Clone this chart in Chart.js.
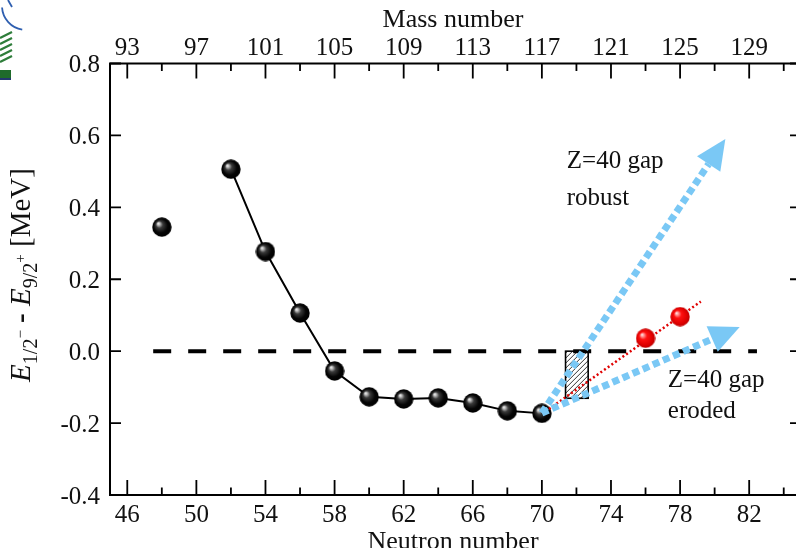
<!DOCTYPE html>
<html><head><meta charset="utf-8">
<script src="https://cdn.jsdelivr.net/npm/chart.js@4/dist/chart.umd.min.js"></script>
<style>
html,body{margin:0;padding:0;background:#fff;overflow:hidden;width:796px;height:548px;}
canvas{display:block;}
</style></head>
<body><canvas id="c" width="796" height="548" style="width:796px;height:548px"></canvas>
<script>
// ---- data ----
const neutronMain = [52, 54, 56, 58, 60, 62, 64, 66, 68, 70];
const energyMain  = [0.506, 0.277, 0.106, -0.055, -0.127, -0.133, -0.130, -0.144, -0.166, -0.173];
const neutronSingle = [48];
const energySingle  = [0.345];
const neutronRed = [76, 78];
const energyRed  = [0.036, 0.096];
const fitN = [70.2, 79.2];
const fitE = [-0.168, 0.138];
const zeroN = [47.5, 82.45];
const zeroE = [0, 0];
const robustN = [70.0, 80.62];
const robustE = [-0.172, 0.590];
const erodedN = [70.0, 81.45];
const erodedE = [-0.172, 0.067];
const boxN = [71.37, 72.68];
const boxE = [-0.131, 0];
const xMajorTicks = [46, 50, 54, 58, 62, 66, 70, 74, 78, 82];
const xMinorTicks = [48, 52, 56, 60, 64, 68, 72, 76, 80, 84];
const massLabels  = ['93', '97', '101', '105', '109', '113', '117', '121', '125', '129'];
const yTicks = [-0.4, -0.2, 0.0, 0.2, 0.4, 0.6, 0.8];
const yTickLabels = ['-0.4', '-0.2', '0.0', '0.2', '0.4', '0.6', '0.8'];
const xRange = [45, 84.71];   // right part of the frame is cropped in the reference
const yRange = [-0.4, 0.8];
const notes = [
  {text: 'Z=40 gap', n: 71.44, e: 0.509},
  {text: 'robust',   n: 71.44, e: 0.406},
  {text: 'Z=40 gap', n: 77.29, e: -0.100},
  {text: 'eroded',   n: 77.29, e: -0.186}
];

const pts = (xs, ys) => xs.map((x, i) => ({x: x, y: ys[i]}));
const SERIF = '"Liberation Serif", "Times New Roman", serif';

function sphere(r, stops) {
  const c = document.createElement('canvas');
  c.width = c.height = 2 * r;
  const g = c.getContext('2d');
  const grad = g.createRadialGradient(r - r * 0.38, r - r * 0.38, 0, r, r, r);
  stops.forEach(s => grad.addColorStop(s[0], s[1]));
  g.fillStyle = grad;
  g.beginPath(); g.arc(r, r, r - 0.3, 0, Math.PI * 2); g.fill();
  return c;
}
const blackBall = sphere(10, [[0, '#f4f4f4'], [0.12, '#c8c8c8'], [0.35, '#3a3a3a'], [0.7, '#050505'], [1, '#000']]);
const redBall = sphere(10, [[0, '#ffffff'], [0.12, '#ffb0b0'], [0.38, '#ff1010'], [0.8, '#dd0000'], [1, '#b80000']]);

const blue = 'rgb(122,200,245)';

function drawArrow(ctx, x0, y0, x1, y1) {
  const ang = Math.atan2(y1 - y0, x1 - x0);
  const headL = 30, headW = 14;
  const bx = x1 - headL * Math.cos(ang), by = y1 - headL * Math.sin(ang);
  ctx.save();
  ctx.strokeStyle = blue; ctx.lineWidth = 7; ctx.setLineDash([7, 4]); ctx.lineCap = 'butt';
  ctx.beginPath(); ctx.moveTo(x0, y0); ctx.lineTo(bx, by); ctx.stroke();
  ctx.setLineDash([]);
  ctx.fillStyle = blue;
  ctx.beginPath();
  ctx.moveTo(x1, y1);
  ctx.lineTo(bx + headW * Math.sin(ang), by - headW * Math.cos(ang));
  ctx.lineTo(bx - headW * Math.sin(ang), by + headW * Math.cos(ang));
  ctx.closePath(); ctx.fill();
  ctx.restore();
}

function drawYLabel(ctx, cx, cy) {
  const main = '29px ' + SERIF, ital = 'italic 29px ' + SERIF, sub = '20px ' + SERIF, sup = '15px ' + SERIF;
  const parts = [
    {t: 'E', f: ital, dy: 0},
    {t: '1/2', f: sub, dy: 7},
    {t: '\u2212', f: sup, dy: -5},
    {t: ' - ', f: 'bold 29px ' + SERIF, dy: 0},
    {t: 'E', f: ital, dy: 0},
    {t: '9/2', f: sub, dy: 7},
    {t: '+', f: sup, dy: -5},
    {t: ' [MeV]', f: main, dy: 0}
  ];
  ctx.save();
  let total = 0;
  parts.forEach(p => { ctx.font = p.f; p.w = ctx.measureText(p.t).width; total += p.w; });
  ctx.translate(cx, cy); ctx.rotate(-Math.PI / 2);
  ctx.fillStyle = '#111'; ctx.textBaseline = 'alphabetic'; ctx.textAlign = 'left';
  let x = -total / 2;
  parts.forEach(p => { ctx.font = p.f; ctx.fillText(p.t, x, p.dy); x += p.w; });
  ctx.restore();
}

const decor = {
  id: 'decor',
  beforeDraw(chart) {
    const ctx = chart.ctx;
    ctx.save();
    ctx.fillStyle = '#fff'; ctx.fillRect(0, 0, chart.width, chart.height);
    // partial logo at top-left corner
    ctx.strokeStyle = '#2f5fb0'; ctx.lineWidth = 1.8;
    ctx.beginPath(); ctx.arc(26, 6, 24, Math.PI * 0.55, Math.PI * 0.98); ctx.stroke();
    ctx.beginPath(); ctx.moveTo(8, 0); ctx.lineTo(12, 7); ctx.stroke();
    ctx.strokeStyle = '#2e7d3a'; ctx.lineWidth = 2.2;
    [[34, 9], [40, 8], [46, 7], [52, 6], [58, 5]].forEach(a => {
      ctx.beginPath(); ctx.moveTo(0, a[0] + 4); ctx.lineTo(12, a[0] - 2); ctx.stroke();
    });
    ctx.fillStyle = '#1f6b2a'; ctx.fillRect(0, 70, 11, 8);
    ctx.fillStyle = '#23386e'; ctx.fillRect(0, 78, 11, 2);
    ctx.restore();
  },
  beforeDatasetsDraw(chart) {
    const ctx = chart.ctx, xs = chart.scales.x, ys = chart.scales.y;
    const x0 = xs.getPixelForValue(boxN[0]), x1 = xs.getPixelForValue(boxN[1]);
    const y0 = ys.getPixelForValue(boxE[1]), y1 = ys.getPixelForValue(boxE[0]);
    ctx.save();
    ctx.fillStyle = '#fff'; ctx.fillRect(x0, y0, x1 - x0, y1 - y0);
    ctx.beginPath(); ctx.rect(x0, y0, x1 - x0, y1 - y0); ctx.clip();
    ctx.strokeStyle = '#333'; ctx.lineWidth = 1;
    for (let k = -60; k < 120; k += 5) {
      ctx.beginPath(); ctx.moveTo(x0 + k, y1); ctx.lineTo(x0 + k + (y1 - y0), y0); ctx.stroke();
    }
    ctx.restore();
    ctx.save();
    ctx.strokeStyle = '#000'; ctx.lineWidth = 1.6;
    ctx.strokeRect(x0, y0, x1 - x0, y1 - y0);
    ctx.restore();
  },
  afterDatasetsDraw(chart) {
    const ctx = chart.ctx, xs = chart.scales.x, ys = chart.scales.y;
    drawArrow(ctx, xs.getPixelForValue(robustN[0]), ys.getPixelForValue(robustE[0]),
                   xs.getPixelForValue(robustN[1]), ys.getPixelForValue(robustE[1]));
    drawArrow(ctx, xs.getPixelForValue(erodedN[0]), ys.getPixelForValue(erodedE[0]),
                   xs.getPixelForValue(erodedN[1]), ys.getPixelForValue(erodedE[1]));
  },
  afterDraw(chart) {
    const ctx = chart.ctx, xs = chart.scales.x, ys = chart.scales.y, a = chart.chartArea;
    const L = a.left, T = a.top, B = a.bottom;
    const R = xs.getPixelForValue(85);   // frame's right side, just outside the crop
    ctx.save();
    ctx.strokeStyle = '#000'; ctx.lineWidth = 2;
    ctx.beginPath();
    ctx.moveTo(R + 2, T); ctx.lineTo(L, T); ctx.lineTo(L, B); ctx.lineTo(R + 2, B);
    ctx.stroke();
    ctx.lineWidth = 1.8;
    xMajorTicks.forEach(v => {
      const p = xs.getPixelForValue(v);
      ctx.beginPath(); ctx.moveTo(p, B); ctx.lineTo(p, B - 15); ctx.moveTo(p, T); ctx.lineTo(p, T + 15); ctx.stroke();
    });
    xMinorTicks.forEach(v => {
      const p = xs.getPixelForValue(v);
      ctx.beginPath(); ctx.moveTo(p, B); ctx.lineTo(p, B - 7.5); ctx.moveTo(p, T); ctx.lineTo(p, T + 7.5); ctx.stroke();
    });
    yTicks.forEach(v => {
      const p = ys.getPixelForValue(v);
      ctx.beginPath(); ctx.moveTo(L, p); ctx.lineTo(L + 11, p); ctx.moveTo(R, p); ctx.lineTo(R - 11, p); ctx.stroke();
    });
    ctx.fillStyle = '#111';
    ctx.font = '25px ' + SERIF; ctx.textBaseline = 'alphabetic';
    ctx.textAlign = 'center';
    xMajorTicks.forEach((v, i) => {
      const p = xs.getPixelForValue(v);
      ctx.fillText(String(v), p, 521.5);
      ctx.fillText(massLabels[i], p, 55);
    });
    ctx.textAlign = 'right';
    yTicks.forEach((v, i) => {
      ctx.fillText(yTickLabels[i], L - 10, ys.getPixelForValue(v) + 8.5);
    });
    ctx.textAlign = 'center';
    ctx.font = '26px ' + SERIF;
    ctx.fillText('Mass number', 453, 27);
    ctx.fillText('Neutron number', 453, 548.5);
    ctx.textAlign = 'left';
    ctx.font = '25px ' + SERIF;
    notes.forEach(nt => ctx.fillText(nt.text, xs.getPixelForValue(nt.n), ys.getPixelForValue(nt.e)));
    drawYLabel(ctx, 30, 275);
    ctx.restore();
  }
};

new Chart(document.getElementById('c'), {
  type: 'scatter',
  data: {
    datasets: [
      {data: pts(zeroN, zeroE), showLine: true, borderColor: '#000', borderWidth: 4, borderDash: [18, 17],
       borderCapStyle: 'butt', pointRadius: 0, order: 10},
      {data: pts(neutronMain, energyMain), showLine: true, borderColor: '#000', borderWidth: 2,
       pointStyle: blackBall, pointRadius: 10, order: 5},
      {data: pts(neutronSingle, energySingle), showLine: false, pointStyle: blackBall, pointRadius: 10, order: 5},
      {data: pts(fitN, fitE), showLine: true, borderColor: '#e00000', borderWidth: 2.5, borderDash: [2, 2.5],
       pointRadius: 0, order: 4},
      {data: pts(neutronRed, energyRed), showLine: false, pointStyle: redBall, pointRadius: 10, order: 3}
    ]
  },
  options: {
    responsive: false,
    devicePixelRatio: 1,
    animation: false,
    events: [],
    layout: {autoPadding: false, padding: {left: 110, right: 0, top: 63.5, bottom: 53}},
    scales: {
      x: {type: 'linear', min: xRange[0], max: xRange[1], display: false},
      y: {type: 'linear', min: yRange[0], max: yRange[1], display: false}
    },
    plugins: {legend: {display: false}, tooltip: {enabled: false}},
    clip: false
  },
  plugins: [decor]
});
</script>
</body></html>
